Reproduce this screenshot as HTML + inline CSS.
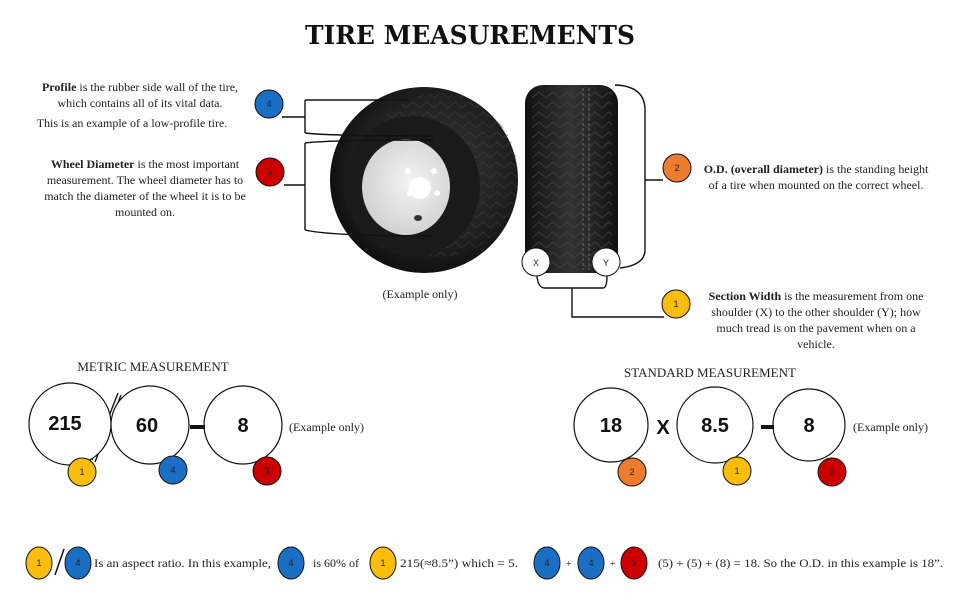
<!DOCTYPE html>
<html><head><meta charset="utf-8"><style>
html,body{margin:0;padding:0;background:#fff;}
svg{display:block;}
text{font-family:"Liberation Serif",serif;fill:#222;}
.b{font-family:"Liberation Sans",sans-serif;font-weight:bold;fill:#111;}
.n{font-family:"Liberation Sans",sans-serif;font-size:9px;fill:#222;}
</style></head><body>
<svg width="970" height="600" viewBox="0 0 970 600" xmlns="http://www.w3.org/2000/svg">
<defs>
<radialGradient id="tg" cx="0.55" cy="0.45" r="0.6"><stop offset="0" stop-color="#3a3a3a"/><stop offset="0.7" stop-color="#1e1e1e"/><stop offset="1" stop-color="#0c0c0c"/></radialGradient>
<linearGradient id="tr" x1="0" x2="1"><stop offset="0" stop-color="#111"/><stop offset="0.5" stop-color="#333"/><stop offset="1" stop-color="#111"/></linearGradient>
<radialGradient id="rg" cx="0.55" cy="0.45" r="0.6"><stop offset="0" stop-color="#f4f4f4"/><stop offset="1" stop-color="#cfcfcf"/></radialGradient>
<pattern id="tp" width="14" height="10" patternUnits="userSpaceOnUse"><path d="M0 8 L7 2 L14 8" stroke="#444" stroke-width="1.3" fill="none"/></pattern>
</defs>
<text x="305" y="44" textLength="330" lengthAdjust="spacingAndGlyphs" style="font-family:'DejaVu Serif','Liberation Serif',serif;font-weight:900;font-size:26px;fill:#111;">TIRE MEASUREMENTS</text>

<ellipse cx="424" cy="180" rx="94" ry="93" fill="url(#tg)"/>
<ellipse cx="440" cy="175" rx="78" ry="82" fill="url(#tp)" opacity="0.4"/>
<ellipse cx="412" cy="186" rx="68" ry="70" fill="#1a1a1a"/>
<ellipse cx="406" cy="187" rx="44" ry="48" fill="url(#rg)"/>
<circle cx="420" cy="188" r="11" fill="#fff"/>
<circle cx="408" cy="171" r="3" fill="#fff"/><circle cx="434" cy="171" r="3" fill="#fff"/>
<circle cx="410" cy="193" r="3" fill="#fff"/><circle cx="437" cy="193" r="3" fill="#fff"/>
<ellipse cx="418" cy="218" rx="4" ry="3" fill="#333"/>
<text x="420" y="298" text-anchor="middle" font-size="12">(Example only)</text>

<rect x="525" y="85" width="93" height="188" rx="18" fill="url(#tr)"/>
<rect x="532" y="90" width="80" height="178" fill="url(#tp)" opacity="0.6"/>
<line x1="583" y1="88" x2="583" y2="270" stroke="#666" stroke-dasharray="3 2"/>
<line x1="589" y1="88" x2="589" y2="270" stroke="#666" stroke-dasharray="3 2"/>

<g fill="none" stroke="#111" stroke-width="1.4">
<path d="M282 117 H305 M305 100 V133 M305 100 H410 M305 133 Q330 136 435 136"/>
<path d="M284 185 H305 M305 143 V230 M305 143 Q330 140 433 140 M305 230 Q330 236 433 236"/>
<path d="M615 85 Q645 86 645 110 V250 Q645 265 620 268 M645 180 H663"/>
<path d="M537 276 Q538 288 545 288 H603 Q607 288 607 276 M572 288 V317 H664"/>
<path d="M118 393 L92 460 M121 395 L95 462"/>
</g>

<circle cx="536" cy="262" r="14" fill="#fff" stroke="#111"/><text x="536" y="266" text-anchor="middle" class="n">X</text>
<circle cx="606" cy="262" r="14" fill="#fff" stroke="#111"/><text x="606" y="266" text-anchor="middle" class="n">Y</text>

<circle cx="269" cy="104" r="14" fill="#1a6fc4" stroke="#111"/><text x="269" y="107" text-anchor="middle" class="n">4</text>
<circle cx="270" cy="172" r="14" fill="#c00" stroke="#111"/><text x="270" y="175" text-anchor="middle" class="n">3</text>
<circle cx="677" cy="168" r="14" fill="#ee7c2e" stroke="#111"/><text x="677" y="171" text-anchor="middle" class="n">2</text>
<circle cx="676" cy="304" r="14" fill="#fbbd0c" stroke="#111"/><text x="676" y="307" text-anchor="middle" class="n">1</text>

<g font-size="12" text-anchor="middle">
<text x="140" y="91"><tspan font-weight="bold">Profile</tspan> is the rubber side wall of the tire,</text>
<text x="140" y="107">which contains all of its vital data.</text>
<text x="132" y="127">This is an example of a low-profile tire.</text>
<text x="145" y="168"><tspan font-weight="bold">Wheel Diameter</tspan> is the most important</text>
<text x="145" y="184">measurement.  The wheel diameter has to</text>
<text x="145" y="200">match the diameter of the wheel it is to be</text>
<text x="145" y="216">mounted on.</text>
<text x="816" y="173"><tspan font-weight="bold">O.D. (overall diameter)</tspan> is the standing height</text>
<text x="816" y="189">of a tire when mounted on the correct wheel.</text>
<text x="816" y="300"><tspan font-weight="bold">Section Width</tspan> is the measurement from one</text>
<text x="816" y="316">shoulder (X) to the other shoulder (Y); how</text>
<text x="816" y="332">much tread is on the pavement when on a</text>
<text x="816" y="348">vehicle.</text>
<text x="153" y="371" font-size="13">METRIC MEASUREMENT</text>
<text x="710" y="377" font-size="13">STANDARD MEASUREMENT</text>
</g>

<g fill="#fff" stroke="#111" stroke-width="1.2">
<circle cx="70" cy="424" r="41"/><circle cx="150" cy="425" r="39"/><circle cx="243" cy="425" r="39"/>
<circle cx="611" cy="425" r="37"/><circle cx="715" cy="425" r="38"/><circle cx="809" cy="425" r="36"/>
</g>
<g text-anchor="middle" font-size="20">
<text x="65" y="430" class="b">215</text><text x="147" y="432" class="b">60</text><text x="243" y="432" class="b">8</text>
<text x="611" y="432" class="b">18</text><text x="663" y="434" class="b">X</text><text x="715" y="432" class="b">8.5</text><text x="809" y="432" class="b">8</text>
</g>
<rect x="190" y="425" width="15" height="4" fill="#111"/>
<rect x="761" y="425" width="13" height="4" fill="#111"/>
<text x="289" y="431" font-size="12">(Example only)</text>
<text x="853" y="431" font-size="12">(Example only)</text>
<circle cx="82" cy="472" r="14" fill="#fbbd0c" stroke="#111"/><text x="82" y="475" text-anchor="middle" class="n">1</text>
<circle cx="173" cy="470" r="14" fill="#1a6fc4" stroke="#111"/><text x="173" y="473" text-anchor="middle" class="n">4</text>
<circle cx="267" cy="471" r="14" fill="#c00" stroke="#111"/><text x="267" y="474" text-anchor="middle" class="n">3</text>
<circle cx="632" cy="472" r="14" fill="#ee7c2e" stroke="#111"/><text x="632" y="475" text-anchor="middle" class="n">2</text>
<circle cx="737" cy="471" r="14" fill="#fbbd0c" stroke="#111"/><text x="737" y="474" text-anchor="middle" class="n">1</text>
<circle cx="832" cy="472" r="14" fill="#c00" stroke="#111"/><text x="832" y="475" text-anchor="middle" class="n">3</text>

<g stroke="#111" stroke-width="1">
<ellipse cx="39" cy="563" rx="13" ry="16" fill="#fbbd0c"/>
<ellipse cx="78" cy="563" rx="13" ry="16" fill="#1a6fc4"/>
<ellipse cx="291" cy="563" rx="13" ry="16" fill="#1a6fc4"/>
<ellipse cx="383" cy="563" rx="13" ry="16" fill="#fbbd0c"/>
<ellipse cx="547" cy="563" rx="13" ry="16" fill="#1a6fc4"/>
<ellipse cx="591" cy="563" rx="13" ry="16" fill="#1a6fc4"/>
<ellipse cx="634" cy="563" rx="13" ry="16" fill="#c00"/>
<line x1="64" y1="549" x2="55" y2="575" stroke-width="1.5"/>
</g>
<g text-anchor="middle">
<text x="39" y="566" class="n">1</text><text x="78" y="566" class="n">4</text><text x="291" y="566" class="n">4</text><text x="383" y="566" class="n">1</text>
<text x="547" y="566" class="n">4</text><text x="591" y="566" class="n">4</text><text x="634" y="566" class="n">3</text>
</g>
<g font-size="12">
<text x="94" y="567" textLength="177" lengthAdjust="spacingAndGlyphs">Is an aspect ratio.  In this example,</text>
<text x="313" y="567">is 60% of</text>
<text x="400" y="567" textLength="118" lengthAdjust="spacingAndGlyphs">215(≈8.5”) which = 5.</text>
<text x="566" y="567" font-size="10">+</text><text x="610" y="567" font-size="10">+</text>
<text x="658" y="567" textLength="285" lengthAdjust="spacingAndGlyphs">(5) + (5) + (8) = 18.  So the O.D. in this example is 18”.</text>
</g>
</svg>
</body></html>
